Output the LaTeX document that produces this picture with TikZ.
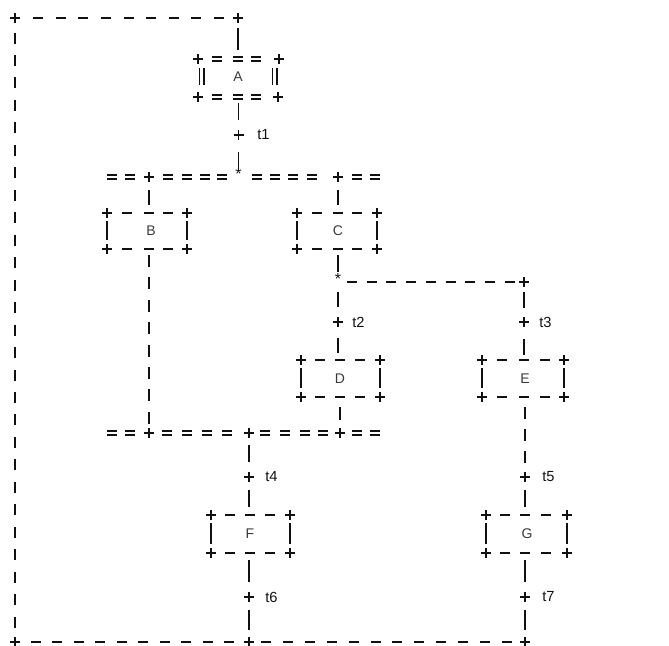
\documentclass[tikz,border=0pt]{standalone}
\usepackage{fontspec}
\setmainfont{Liberation Sans}
\definecolor{ink}{HTML}{111111}
\definecolor{lettergray}{HTML}{3A3A3A}
\newcommand{\abox}[8]{%
  \node[lbl] (#1) at (#6,{(#4+#5)/2}) {#7};
  \pic at (#2,#4) {plus}; \pic at (#3,#4) {plus};
  \pic at (#2,#5) {plus}; \pic at (#3,#5) {plus};
  \foreach \dx in {#8} {\pic at (\dx,#4) {hd}; \pic at (\dx,#5) {hd};}
  \draw[g] (#2,#4+8) -- (#2,#5-9) (#3,#4+8) -- (#3,#5-9);
}
\begin{document}
\begin{tikzpicture}[x=0.75pt,y=-0.75pt,
  g/.style={line width=1.1pt, draw=ink, line cap=butt},
  vb/.style 2 args={g, shorten <=#1*0.75pt, shorten >=#2*0.75pt},
  lbl/.style={font=\fontsize{10.5}{12}\selectfont, text=lettergray, inner sep=0pt},
  tl/.style={font=\fontsize{11}{13}\selectfont, text=ink, anchor=west, inner sep=0pt},
  star/.style={font=\fontsize{12}{13}\selectfont, text=ink, inner sep=0pt},
  plus/.pic={\draw[g] (-5,0) -- (5,0) (0,-5) -- (0,5);},
  hd/.pic={\draw[g] (-5,0) -- (5,0);},
  eq/.pic={\draw[g] (-5,-2) -- (5,-2) (-5,2) -- (5,2);},
]
\useasboundingbox (0,0) rectangle (669,646);

% outer loop corners
\coordinate (L0) at (15,18);
\coordinate (R0) at (238,18);
\coordinate (L1) at (15,642);
\coordinate (M1) at (249,642);
\coordinate (R1) at (525,642);
\foreach \c in {L0,R0,L1,M1,R1} \pic at (\c) {plus};
\foreach \x in {38,60.6,83.3,105.9,128.5,151.1,173.8,196.4,219} \pic at (\x,18) {hd};
\foreach \x in {36,57.4,78.9,100.3,121.8,143.2,164.7,186.1,207.6,229} \pic at (\x,642) {hd};
\foreach \x in {266,287.9,309.8,331.7,353.6,375.5,397.4,419.3,441.2,463.1,485,507} \pic at (\x,642) {hd};
\draw[g, dash pattern=on 8.25pt off 8.6pt, shorten <=10.875pt, shorten >=10pt] (L0) -- (L1);

% box A (double)
\coordinate (Atop) at (238,59);
\coordinate (Abot) at (238.5,97);
\node[lbl] (A) at (238,77) {A};
\foreach \x/\y in {198/59,279/59,198/97,278/97} \pic at (\x,\y) {plus};
\foreach \x in {217,238,256} {\pic at (\x,59) {eq}; \pic at (\x,97) {eq};}
\draw[g] (199.5,68) -- (199.5,85) (204,68) -- (204,85)
         (272.5,68) -- (272.5,85) (277,68) -- (277,85);
\draw[vb={10}{9}] (R0) -- (Atop);

% t1
\coordinate (J1) at (238.5,135);
\pic at (J1) {plus};
\node[tl] (t1) at (257,135) {t1};
\draw[vb={6}{15}] (Abot) -- (J1);
\coordinate (S1) at (238.5,177);
\node[star] (s1) at (238.5,174) {*};
\draw[vb={17}{7}] (J1) -- (S1);

% parallel split
\foreach \x in {112,130,168,187,205,222,257,275,293,312,357,375} \pic at (\x,177) {eq};
\coordinate (Bj) at (149,177);
\coordinate (Cj) at (338,177);
\pic at (Bj) {plus}; \pic at (Cj) {plus};

% B, C
\abox{B}{107}{187}{213}{249}{151}{B}{127,149,168}
\abox{C}{297}{377}{213}{249}{338}{C}{317,338,357}
\coordinate (Btop) at (149,213); \coordinate (Bbot) at (149,249);
\coordinate (Ctop) at (338,213); \coordinate (Cbot) at (338,249);
\draw[vb={13}{8}] (Bj) -- (Btop);
\draw[vb={13}{8}] (Cj) -- (Ctop);

% B down to join
\coordinate (Bj2) at (149,433);
\draw[g, dash pattern=on 9pt off 7.8pt, shorten <=4.5pt, shorten >=6.75pt] (Bbot) -- (Bj2);

% C choice
\coordinate (S2) at (338,282);
\node[star] (s2) at (338,279) {*};
\draw[vb={6}{10}] (Cbot) -- (S2);
\coordinate (Ej) at (524,282);
\pic at (Ej) {plus};
\draw[g, dash pattern=on 7.5pt off 7.31pt, shorten <=6.75pt, shorten >=6.75pt] (S2) -- (Ej);

% t2, t3
\coordinate (J2) at (338,322);
\pic at (J2) {plus};
\node[tl] (t2) at (352,322) {t2};
\draw[vb={10}{15}] (S2) -- (J2);
\coordinate (Dtop) at (338,360);
\draw[vb={16}{7}] (J2) -- (Dtop);
\coordinate (J3) at (524,322);
\pic at (J3) {plus};
\node[tl] (t3) at (539,322) {t3};
\draw[vb={10}{14}] (Ej) -- (J3);
\coordinate (Etop) at (524,360);
\draw[vb={17}{5}] (J3) -- (Etop);

% D, E
\abox{D}{301}{380}{360}{397}{340}{D}{320,340,360}
\abox{E}{482}{564}{360}{397}{525}{E}{502,524,545}
\coordinate (Dbot) at (340,397);
\coordinate (Dj) at (340,433);
\draw[vb={10}{13}] (Dbot) -- (Dj);

% join
\foreach \x in {112,130,167,187,207,227,265,285,305,323,357,375} \pic at (\x,433) {eq};
\coordinate (Fj) at (249,433);
\foreach \c in {Bj2,Fj,Dj} \pic at (\c) {plus};

% t4, t5
\coordinate (Ebot) at (525,397);
\coordinate (J5) at (525,477);
\draw[g, dash pattern=on 9pt off 7.5pt, shorten <=7.5pt, shorten >=10.5pt] (Ebot) -- (J5);
\pic at (J5) {plus};
\node[tl] (t5) at (542,477) {t5};
\coordinate (J4) at (249,477);
\pic at (J4) {plus};
\node[tl] (t4) at (265,477) {t4};
\draw[vb={12}{15}] (Fj) -- (J4);
\coordinate (Ftop) at (249,515);
\coordinate (Gtop) at (525,515);
\draw[vb={13}{8}] (J4) -- (Ftop);
\draw[vb={13}{8}] (J5) -- (Gtop);

% F, G
\abox{F}{211}{290}{515}{553}{250}{F}{230,250,270}
\abox{G}{486}{567}{515}{553}{527}{G}{505,525,546}
\coordinate (Fbot) at (249,553);
\coordinate (Gbot) at (525,553);

% t6, t7
\coordinate (J6) at (249,597);
\coordinate (J7) at (525,597);
\pic at (J6) {plus}; \pic at (J7) {plus};
\node[tl] (t6) at (265,597) {t6};
\node[tl] (t7) at (542,597) {t7};
\draw[vb={7}{15}] (Fbot) -- (J6);
\draw[vb={7}{15}] (Gbot) -- (J7);
\draw[vb={13}{12}] (J6) -- (M1);
\draw[vb={13}{12}] (J7) -- (R1);
\end{tikzpicture}
\end{document}
